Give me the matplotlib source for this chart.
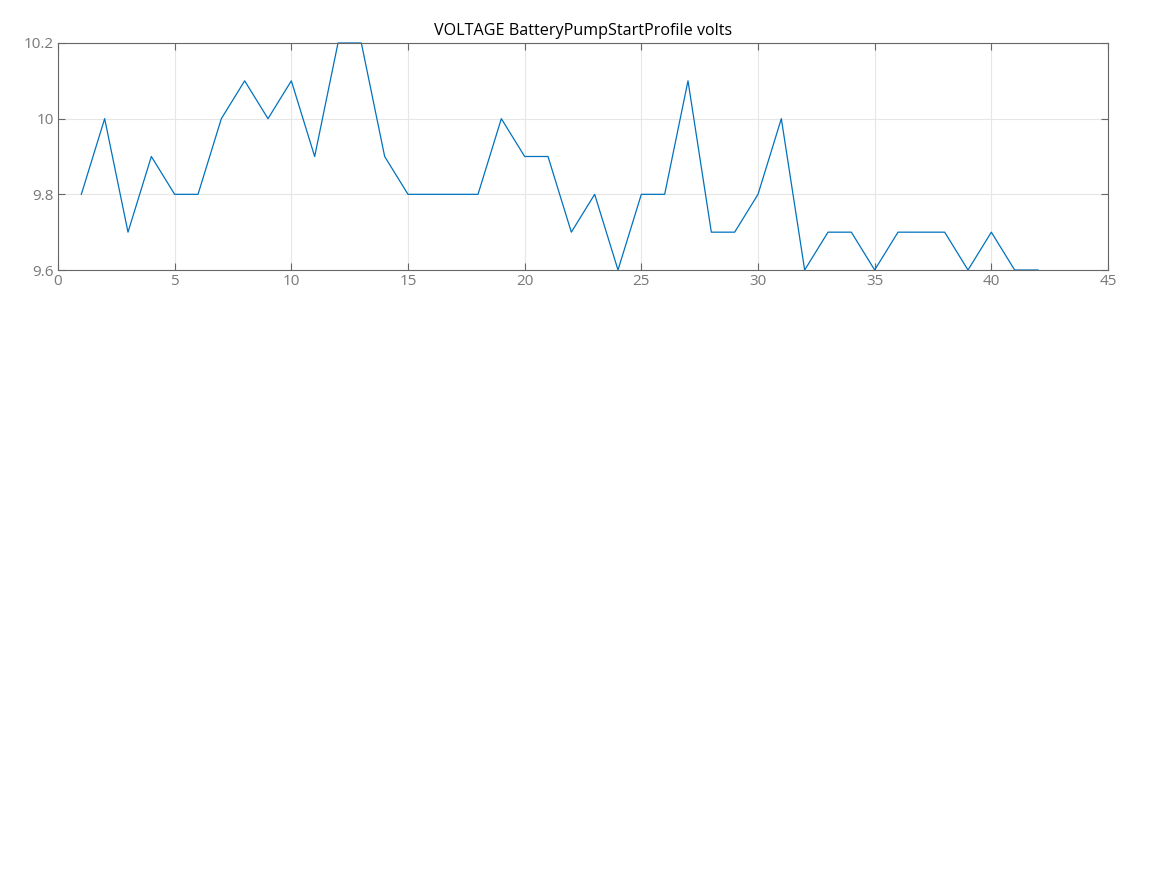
import numpy as np
import matplotlib
matplotlib.use('Agg')
import matplotlib.pyplot as plt

plt.rcParams['font.family'] = ['Open Sans', 'DejaVu Sans']

# Sample index and measured battery voltage
sample = np.arange(1, 43)
volts = [9.8, 10.0, 9.7, 9.9, 9.8, 9.8, 10.0, 10.1, 10.0, 10.1,
         9.9, 10.2, 10.2, 9.9, 9.8, 9.8, 9.8, 9.8, 10.0, 9.9,
         9.9, 9.7, 9.8, 9.6, 9.8, 9.8, 10.1, 9.7, 9.7, 9.8,
         10.0, 9.6, 9.7, 9.7, 9.6, 9.7, 9.7, 9.7, 9.6, 9.7,
         9.6, 9.6]
xticks = [0, 5, 10, 15, 20, 25, 30, 35, 40, 45]
yticks = [9.6, 9.8, 10.0, 10.2]
yticklabels = ['9.6', '9.8', '10', '10.2']

fig = plt.figure(figsize=(11.67, 8.75), dpi=100)
ax = fig.add_axes([58/1167, 1 - 270/875, 1050/1167, 227/875])

ax.plot(sample, volts, color='#0072BD', lw=0.9, clip_on=False)
ax.set_xlim(0, 45)
ax.set_ylim(9.6, 10.2)
ax.set_xticks(xticks)
ax.set_yticks(yticks)
ax.set_yticklabels(yticklabels)
ax.grid(True, color='#e6e6e6', lw=0.8)
ax.set_axisbelow(True)

for s in ax.spines.values():
    s.set_color('#666666')
    s.set_linewidth(0.8)
ax.tick_params(direction='in', length=5, width=0.8, color='#666666',
               labelcolor='#777777', labelsize=11, top=True, right=True, pad=3)
ax.set_title('VOLTAGE BatteryPumpStartProfile volts', fontsize=11.6,
             color='black', pad=6)

fig.savefig('out.png', dpi=100)
